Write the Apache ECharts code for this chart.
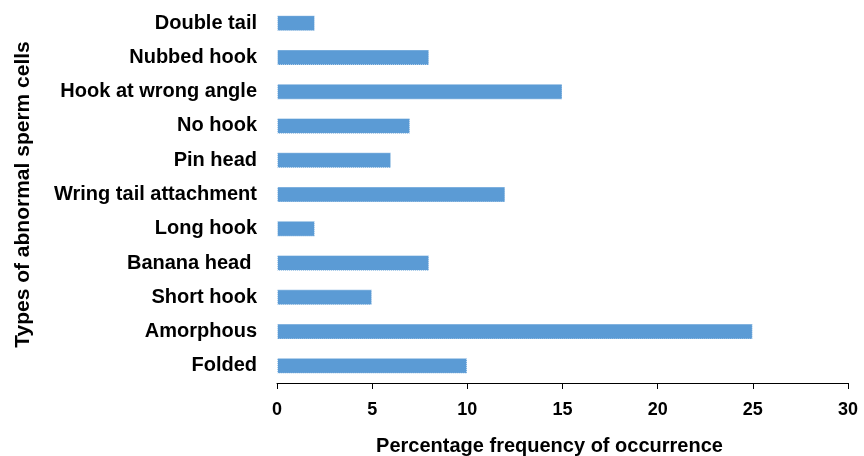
<!DOCTYPE html>
<html><head><meta charset="utf-8">
<script src="https://cdn.jsdelivr.net/npm/echarts@6/dist/echarts.min.js"></script>
<style>html,body{margin:0;padding:0;background:#fff}#c{width:864px;height:456px}</style>
</head><body><div id="c"></div>
<script>
const categories = ["Folded","Amorphous","Short hook","Banana head ","Long hook","Wring tail attachment","Pin head","No hook","Hook at wrong angle","Nubbed hook","Double tail"];
const values = [10,25,5,8,2,12,6,7,15,8,2];
const xTicks = [0,5,10,15,20,25,30];
const chart = echarts.init(document.getElementById('c'), null, {renderer:'canvas'});
const font = '"Liberation Sans", Arial, sans-serif';
chart.setOption({
  animation:false,
  grid:{left:277,right:16,top:6,bottom:73,outerBoundsMode:'none',containLabel:false},
  xAxis:{type:'value',min:xTicks[0],max:xTicks[xTicks.length-1],interval:5,
    name:'Percentage frequency of occurrence',nameLocation:'middle',nameGap:53,
    nameTextStyle:{fontFamily:font,fontWeight:'bold',fontSize:20,color:'#000',padding:[0,26,0,0]},
    axisLine:{show:true,lineStyle:{color:'#000',width:1}},
    axisTick:{show:true,length:6,lineStyle:{color:'#000'}},
    axisLabel:{fontFamily:font,fontWeight:'bold',fontSize:18,color:'#000',margin:18},
    splitLine:{show:false}},
  yAxis:{type:'category',data:categories,
    name:'Types of abnormal sperm cells',nameLocation:'middle',nameGap:243,nameRotate:90,
    nameTextStyle:{fontFamily:font,fontWeight:'bold',fontSize:21,color:'#000'},
    axisLine:{show:false},axisTick:{show:false},
    axisLabel:{fontFamily:font,fontWeight:'bold',fontSize:20,color:'#000',margin:20}},
  series:[{type:'bar',data:values,barWidth:16,
    itemStyle:{color:'#5b9bd5',borderColor:'rgba(255,255,255,0.85)',borderWidth:1,borderType:'dotted'}}]
});
</script></body></html>
